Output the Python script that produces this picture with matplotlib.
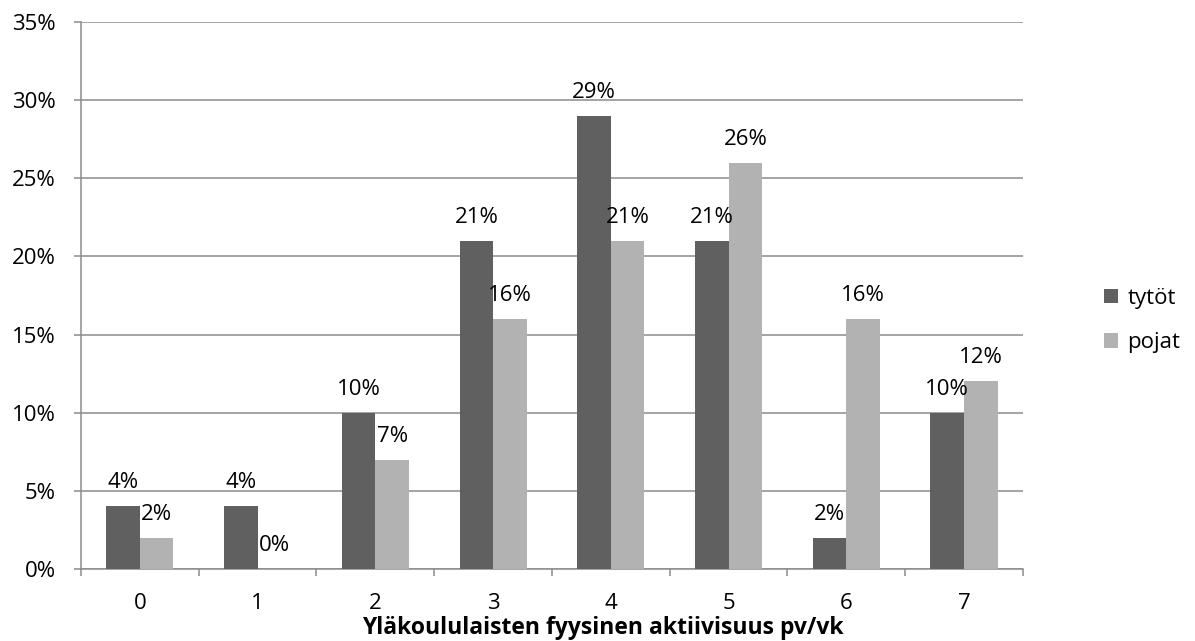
import matplotlib
matplotlib.use("Agg")
import matplotlib.pyplot as plt
import numpy as np
from matplotlib.ticker import FixedLocator, PercentFormatter

plt.rcParams['font.family'] = ['Open Sans', 'DejaVu Sans']

categories = ['0', '1', '2', '3', '4', '5', '6', '7']
tytot = [4, 4, 10, 21, 29, 21, 2, 10]
pojat = [2, 0, 7, 16, 21, 26, 16, 12]
series_names = ['tytöt', 'pojat']
xlabel = 'Yläkoululaisten fyysinen aktiivisuus pv/vk'

dark = '#606060'
light = '#b2b2b2'
grid_c = '#8c8c8c'
fs = 16

fig = plt.figure(figsize=(11.95, 6.41), dpi=100)
ax = fig.add_axes([0.0678, 0.1123, 0.7882, 0.8534])

x = np.arange(len(categories))
w = 0.285
b1 = ax.bar(x - w / 2, tytot, w, color=dark, label=series_names[0], zorder=3)
b2 = ax.bar(x + w / 2, pojat, w, color=light, label=series_names[1], zorder=3)

for bars, vals in ((b1, tytot), (b2, pojat)):
    for r, v in zip(bars, vals):
        ax.annotate(f'{v}%', (r.get_x() + r.get_width() / 2, v),
                    xytext=(0, 13), textcoords='offset points',
                    ha='center', va='baseline', fontsize=fs, color='black')

ax.set_xlim(-0.5, len(categories) - 0.5)
ax.set_ylim(0, 35)
ax.yaxis.set_major_locator(FixedLocator(np.arange(0, 36, 5)))
ax.yaxis.set_major_formatter(PercentFormatter(decimals=0))
ax.grid(axis='y', color=grid_c, linewidth=1.1, zorder=0)
ax.set_axisbelow(True)

ax.set_xticks(x)
ax.set_xticklabels(categories)
ax.xaxis.set_minor_locator(FixedLocator(np.arange(-0.5, len(categories), 1.0)))
ax.tick_params(axis='x', which='major', length=0, pad=17, labelsize=fs)
ax.tick_params(axis='x', which='minor', length=5, width=1.1, color=grid_c, direction='out')
ax.tick_params(axis='y', length=5, width=1.1, color=grid_c, pad=13, labelsize=fs)

for s in ('top', 'right'):
    ax.spines[s].set_visible(False)
for s in ('left', 'bottom'):
    ax.spines[s].set_color(grid_c)
    ax.spines[s].set_linewidth(1.1)

ax.set_xlabel(xlabel, fontsize=16.5, fontweight='bold', va='baseline')
ax.xaxis.set_label_coords(0.554, -0.119)

leg = fig.legend(handles=[b1, b2], labels=series_names, loc='center left',
                 bbox_to_anchor=(0.907, 0.5), frameon=False, fontsize=fs,
                 handlelength=0.65, handleheight=0.65, handletextpad=0.4,
                 labelspacing=1.05)

fig.savefig('out.png', dpi=100)
